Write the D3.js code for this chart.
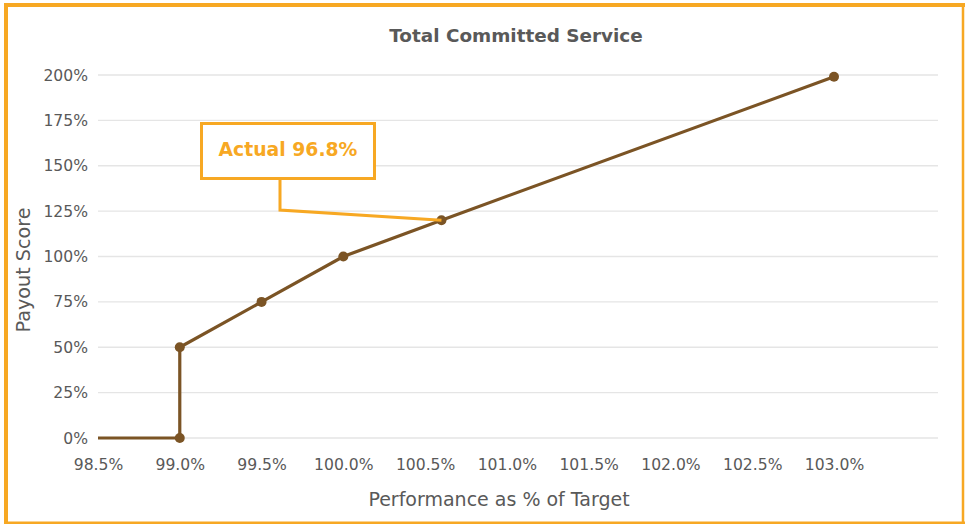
<!DOCTYPE html>
<html><head><meta charset="utf-8">
<script src="https://cdn.jsdelivr.net/npm/d3@7"></script>
<style>body{margin:0;background:#fff}svg{display:block}text{font-family:Verdana,"DejaVu Sans",sans-serif}</style>
</head><body><svg id="c" width="968" height="524"></svg>
<script>
const performance = [98.5, 99.0, 99.0, 99.5, 100.0, 100.6, 103.0];
const payout = [0, 0, 50, 75, 100, 120, 199];
const hasMarker = [false, true, true, true, true, true, true];
const xTicks = [98.5, 99.0, 99.5, 100.0, 100.5, 101.0, 101.5, 102.0, 102.5, 103.0];
const yTicks = [0, 25, 50, 75, 100, 125, 150, 175, 200];
const actualLabel = "Actual 96.8%";
const actualPointIndex = 5;

const svg = d3.select("#c");
const orange = "#F7A823", brown = "#7B5425", grey = "#595959";
const x = d3.scaleLinear().domain([98.5, 103.0]).range([98, 834]);
const y = d3.scaleLinear().domain([0, 200]).range([438, 75]);
const plotRight = 938;
const ff = 'Verdana,"DejaVu Sans",sans-serif';

svg.append("text").attr("x", 516).attr("y", 42).attr("text-anchor", "middle")
  .attr("font-size", 18.4).attr("font-weight", "bold").attr("fill", grey).text("Total Committed Service");

// gridlines
svg.append("g").selectAll("line").data(yTicks).join("line")
  .attr("x1", 98).attr("x2", plotRight).attr("y1", d => y(d)).attr("y2", d => y(d))
  .attr("stroke", "#e5e5e5").attr("stroke-width", 1.3);

// y axis labels
const ya = svg.append("g").attr("transform", "translate(98,0)")
  .call(d3.axisLeft(y).tickValues(yTicks).tickFormat(d => d + "%").tickSize(0).tickPadding(10));
ya.select(".domain").remove();
ya.selectAll("text").attr("font-size", 15.6).attr("fill", grey).style("font-family", ff);

// x axis labels
const xa = svg.append("g").attr("transform", "translate(0,438)")
  .call(d3.axisBottom(x).tickValues(xTicks).tickFormat(d => d.toFixed(1) + "%").tickSize(0).tickPadding(21));
xa.select(".domain").remove();
xa.selectAll("text").attr("font-size", 15.6).attr("fill", grey).style("font-family", ff);

svg.append("text").attr("transform", "translate(30,270) rotate(-90)").attr("text-anchor", "middle")
  .attr("font-size", 19.2).attr("fill", grey).text("Payout Score");
svg.append("text").attr("x", 499).attr("y", 506).attr("text-anchor", "middle")
  .attr("font-size", 19).attr("fill", grey).text("Performance as % of Target");

const pts = performance.map((p, i) => ({p, v: payout[i], m: hasMarker[i]}));
svg.append("path").datum(pts)
  .attr("d", d3.line().x(d => x(d.p)).y(d => y(d.v)))
  .attr("fill", "none").attr("stroke", brown).attr("stroke-width", 3.2);
svg.append("g").selectAll("circle").data(pts.filter(d => d.m)).join("circle")
  .attr("cx", d => x(d.p)).attr("cy", d => y(d.v)).attr("r", 5).attr("fill", brown);

// callout
const ap = pts[actualPointIndex];
svg.append("path")
  .attr("d", `M280,179 L280,210 L${x(ap.p)},${y(ap.v)}`)
  .attr("fill", "none").attr("stroke", orange).attr("stroke-width", 3);
svg.append("rect").attr("x", 201.5).attr("y", 123.5).attr("width", 173).attr("height", 55)
  .attr("fill", "#fff").attr("stroke", orange).attr("stroke-width", 3);
svg.append("text").attr("x", 288).attr("y", 155.5).attr("text-anchor", "middle")
  .attr("font-size", 18.8).attr("font-weight", "bold").attr("fill", orange).text(actualLabel);

// border
svg.append("line").attr("x1", 6).attr("x2", 6).attr("y1", 3).attr("y2", 524).attr("stroke", orange).attr("stroke-width", 4);
svg.append("line").attr("x1", 4).attr("x2", 965).attr("y1", 5).attr("y2", 5).attr("stroke", orange).attr("stroke-width", 4);
svg.append("line").attr("x1", 963).attr("x2", 963).attr("y1", 3).attr("y2", 524).attr("stroke", orange).attr("stroke-width", 2.5);
svg.append("line").attr("x1", 4).attr("x2", 965).attr("y1", 522.8).attr("y2", 522.8).attr("stroke", orange).attr("stroke-width", 2.5);
</script></body></html>
